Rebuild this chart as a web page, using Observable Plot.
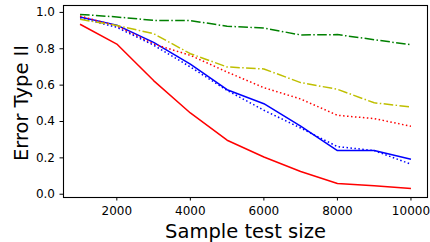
<!DOCTYPE html>
<html><head><meta charset="utf-8">
<script src="https://cdn.jsdelivr.net/npm/d3@7"></script>
<script src="https://cdn.jsdelivr.net/npm/@observablehq/plot@0.6"></script>
<style>body{margin:0;background:#fff}</style></head>
<body><div id="chart"></div>
<script>
const sizes = [1000, 2000, 3000, 4000, 5000, 6000, 7000, 8000, 9000, 10000];
const redSolid = [0.935, 0.826, 0.625, 0.447, 0.297, 0.205, 0.125, 0.059, 0.046, 0.031];
const blueSolid = [0.975, 0.93, 0.835, 0.715, 0.575, 0.498, 0.375, 0.24, 0.24, 0.192];
const redDotted = [0.98, 0.925, 0.826, 0.764, 0.672, 0.586, 0.524, 0.434, 0.416, 0.374];
const blueDotted = [0.97, 0.918, 0.82, 0.70, 0.571, 0.462, 0.364, 0.262, 0.24, 0.165];
const yellowDashDot = [0.962, 0.928, 0.883, 0.773, 0.70, 0.689, 0.614, 0.577, 0.503, 0.48];
const greenDashDot = [0.989, 0.975, 0.956, 0.955, 0.924, 0.914, 0.876, 0.878, 0.85, 0.822];
const xTicks = [2000, 4000, 6000, 8000, 10000];
const yTicks = [0, 0.2, 0.4, 0.6, 0.8, 1.0];
const xLabel = "Sample test size";
const yLabel = "Error Type II";

const rows = vals => sizes.map((x, i) => ({x, y: vals[i]}));
const dotted = "1.5,2.475";
const dashdot = "9.6,2.4,1.5,2.4";
const lineSpecs = [
  [redSolid, "#ff0000", null],
  [blueSolid, "#0000ff", null],
  [redDotted, "#ff0000", dotted],
  [blueDotted, "#0000ff", dotted],
  [greenDashDot, "#008000", dashdot],
  [yellowDashDot, "#bfbf00", dashdot]
];

const chart = Plot.plot({
  width: 430,
  height: 242,
  marginLeft: 63,
  marginRight: 3,
  marginTop: 5,
  marginBottom: 45,
  style: {fontFamily: "'DejaVu Sans', sans-serif", fontSize: "12px", color: "#000", background: "#fff"},
  x: {domain: [550, 10450]},
  y: {domain: [-0.018, 1.038]},
  marks: [
    ...lineSpecs.map(([vals, color, dash]) => Plot.line(rows(vals), {
      x: "x", y: "y", stroke: color, strokeWidth: 1.5,
      strokeDasharray: dash || undefined, strokeLinecap: "butt", strokeLinejoin: "round"
    })),
    Plot.frame({stroke: "#000", strokeWidth: 1.1}),
    Plot.axisX({ticks: xTicks, tickSize: 3.5, tickPadding: 5, tickFormat: d3.format("d"), label: null, fontSize: 12}),
    Plot.axisY({ticks: yTicks, tickSize: 3.5, tickPadding: 5, tickFormat: d3.format(".1f"), label: null, fontSize: 12}),
    Plot.text([xLabel], {text: d => d, frameAnchor: "bottom", lineAnchor: "bottom", dy: 40.5, fontSize: 19.5, fill: "#000"}),
    Plot.text([yLabel], {text: d => d, frameAnchor: "left", textAnchor: "middle", lineAnchor: "middle", rotate: -90, dx: -42, dy: 1.5, fontSize: 19.5, fill: "#000"})
  ]
});
document.getElementById("chart").appendChild(chart);
</script>
</body></html>
